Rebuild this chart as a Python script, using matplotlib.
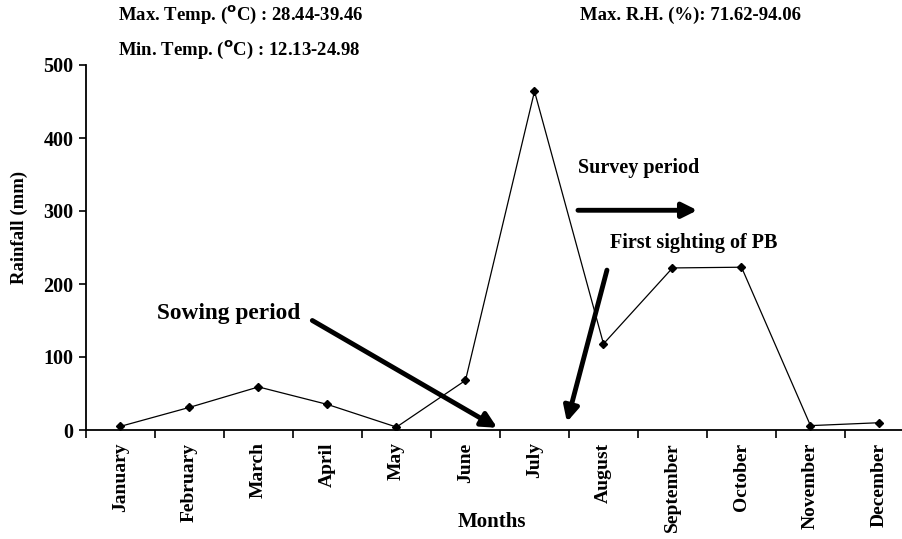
import matplotlib
matplotlib.use("Agg")
import matplotlib.pyplot as plt

months = ["January", "February", "March", "April", "May", "June", "July",
          "August", "September", "October", "November", "December"]
rainfall = [5, 31, 59, 35, 4, 68, 464, 118, 222, 223, 6, 10]
yticks = [0, 100, 200, 300, 400, 500]

plt.rcParams['font.family'] = ['Liberation Serif', 'DejaVu Serif']
plt.rcParams['font.weight'] = 'bold'
plt.rcParams['mathtext.default'] = 'bf'

fig = plt.figure(figsize=(9.03, 5.39), dpi=100)
ax = fig.add_axes([86/903, 109/539, 828/903, 365/539])

x = list(range(len(months)))
ax.plot(x, rainfall, color='black', lw=0.9, marker='D', ms=4.5)

ax.set_xlim(-0.5, 11.5)
ax.set_ylim(0, 500)
ax.set_yticks(yticks)
ax.set_yticklabels([str(v) for v in yticks], fontsize=14.5, fontweight='bold')
ax.set_xticks(x)
ax.set_xticklabels(months, rotation=90, fontsize=14, fontweight='bold')
ax.set_xticks([i - 0.5 for i in range(len(months) + 1)], minor=True)
ax.tick_params(axis='x', which='major', length=0, pad=9)
ax.tick_params(axis='x', which='minor', length=6, width=1.2, direction='out')
ax.tick_params(axis='y', length=5, width=1.2, direction='out', pad=4)
for s in ['top', 'right']:
    ax.spines[s].set_visible(False)
for s in ['left', 'bottom']:
    ax.spines[s].set_linewidth(1.3)

ax.set_ylabel("Rainfall (mm)", fontsize=13.5, fontweight='bold')
ax.yaxis.set_label_coords(-0.07, 0.555)
fig.text(492/903, 1 - 522/539, "Months", ha='center', va='center',
         fontsize=15, fontweight='bold')

fig.text(118/903, 1 - 15/539, r"Max. Temp. ($^{o}$C) : 28.44-39.46",
         ha='left', va='center', fontsize=13.5, fontweight='bold')
fig.text(118/903, 1 - 50/539, r"Min. Temp. ($^{o}$C) : 12.13-24.98",
         ha='left', va='center', fontsize=13.5, fontweight='bold')
fig.text(580/903, 1 - 15/539, "Max. R.H. (%): 71.62-94.06",
         ha='left', va='center', fontsize=13.5, fontweight='bold')

arrow = dict(arrowstyle='-|>,head_length=0.9,head_width=0.45', color='black',
             lw=3.5, shrinkA=0, shrinkB=0)
ax.annotate("", xy=(5.46, 3), xytext=(2.78, 150), arrowprops=arrow)
ax.text(0.53, 160, "Sowing period", fontsize=16.8, fontweight='bold',
        ha='left', va='center')
ax.annotate("", xy=(8.36, 301), xytext=(6.63, 301), arrowprops=arrow)
ax.text(6.63, 359, "Survey period", fontsize=14.5, fontweight='bold',
        ha='left', va='center')
ax.annotate("", xy=(6.47, 11), xytext=(7.05, 219), arrowprops=arrow)
ax.text(7.09, 256, "First sighting of PB", fontsize=14.5, fontweight='bold',
        ha='left', va='center')

fig.savefig("out.png", dpi=100)
